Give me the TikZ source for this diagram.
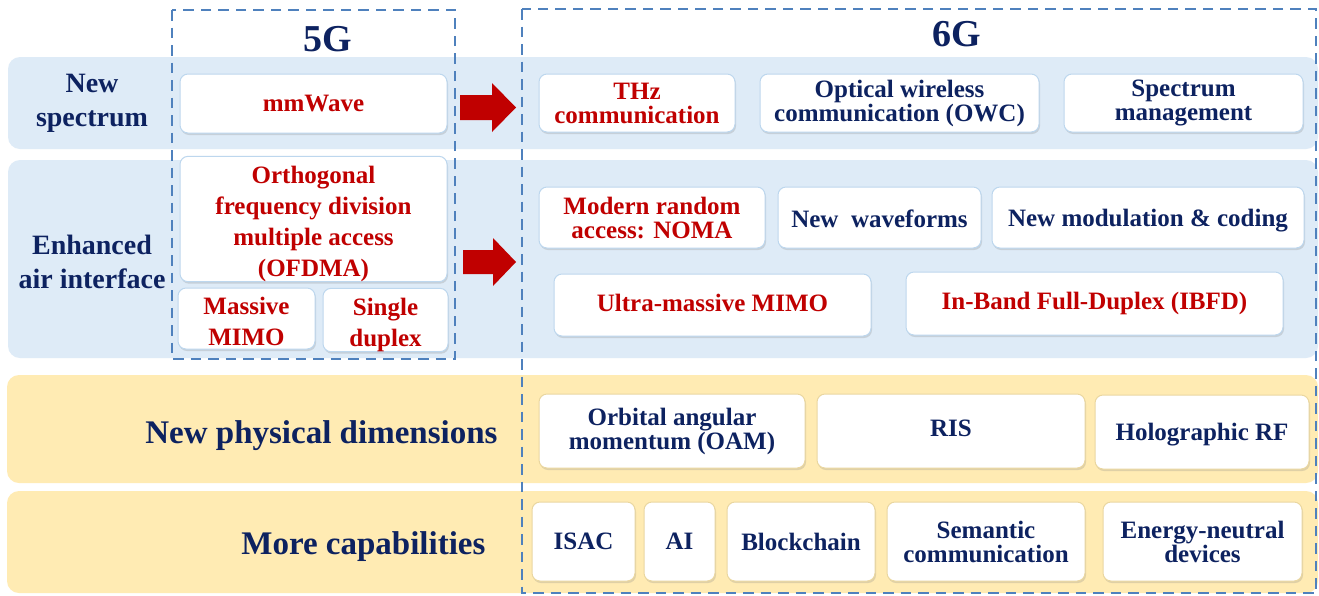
\documentclass[tikz,border=0pt]{standalone}
\usepackage{fontspec}
\setmainfont{Liberation Serif}
\usetikzlibrary{shadows}
\definecolor{navy}{HTML}{0D2260}
\definecolor{dred}{HTML}{C00000}
\definecolor{bandblue}{HTML}{DEEBF7}
\definecolor{bandyel}{HTML}{FFEBB3}
\definecolor{dashblue}{HTML}{4F81BD}
\definecolor{boxblue}{HTML}{BDD7EE}
\definecolor{boxyel}{HTML}{EAD7A0}
\newcommand{\up}[1]{\rule{0pt}{#1}}
\newcommand{\dnd}[1]{\rule[-#1]{0pt}{0pt}}
\begin{document}
\begin{tikzpicture}[x=1pt,y=-1pt,
  band/.style={rounded corners=12pt, draw=none},
  frame/.style={draw=dashblue, line width=2.8pt, dash pattern=on 10.5pt off 7pt},
  card/.style={draw=boxblue, fill=white, line width=1pt, rounded corners=8pt,
    drop shadow={shadow xshift=1pt,shadow yshift=-2pt,opacity=0.25},
    align=center, inner sep=0pt,
    font=\fontsize{25}{24}\selectfont\bfseries},
  ycard/.style={card, draw=boxyel},
  oldcard/.style={card, font=\fontsize{25}{31}\selectfont\bfseries},
  redt/.style={text=dred},
  navt/.style={text=navy},
  rowlabel/.style={text=navy, align=center, font=\fontsize{28}{34}\selectfont\bfseries},
  biglabel/.style={text=navy, font=\fontsize{33}{38}\selectfont\bfseries},
  genlabel/.style={text=navy, font=\fontsize{38}{40}\selectfont\bfseries},
  blockarrow/.style={fill=dred, draw=none}
]
\useasboundingbox (0,0) rectangle (1319,595);
\fill[white] (0,0) rectangle (1319,595);

% bands
\fill[band, bandblue] (8,57) rectangle (1318,149);
\fill[band, bandblue] (8,160) rectangle (1318,358);
\fill[band, bandyel] (7,375) rectangle (1318,483);
\fill[band, bandyel] (7,491) rectangle (1318,593);

% frames
\draw[frame] (172,10) rectangle (455,359);
\draw[frame] (522,9) rectangle (1316,593);

\node[genlabel] (g5) at (328,39) {5G};
\node[genlabel] (g6) at (957,34) {6G};

% row labels
\node[rowlabel] (l1) at (92,100) {\up{25pt}New\\spectrum};
\node[rowlabel] (l2) at (92,262) {Enhanced\\air interface};
\node[biglabel, anchor=east] (l3) at (501,432) {\up{31pt}New physical dimensions};
\node[biglabel, anchor=east] (l4) at (489,543) {\up{31pt}More capabilities};

% block arrows
\fill[blockarrow] (460,95) -- (492,95) -- (492,83) -- (516,107.5) -- (492,132) -- (492,120) -- (460,120) -- cycle;
\fill[blockarrow] (463,250) -- (493,250) -- (493,238) -- (516,262) -- (493,286) -- (493,274) -- (463,274) -- cycle;

% 5G cards
\node[oldcard, redt, minimum width=267, minimum height=59] (mm) at (313.5,103.5) {mmWave};
\node[oldcard, redt, minimum width=267, minimum height=122] (ofdma) at (313.5,219) {\up{27pt}Orthogonal\\frequency division\\multiple access\\(OFDMA)};
\node[oldcard, redt, minimum width=137, minimum height=61] (mmimo) at (246.5,318.5) {\up{23pt}Massive\\MIMO};
\node[oldcard, redt, minimum width=125, minimum height=62] (sdup) at (385.5,320) {\up{27pt}Single\\duplex};

% 6G row 1
\node[card, redt, minimum width=196, minimum height=58] (thz) at (637,103) {THz\\communication};
\node[card, navt, minimum width=279, minimum height=58] (owc) at (899.5,103) {Optical wireless\\communication (OWC)};
\node[card, navt, minimum width=239, minimum height=58] (spm) at (1183.5,103) {Spectrum\\management};

% 6G row 2
\node[card, redt, minimum width=226, minimum height=61] (noma) at (652,217.5) {Modern random\\access: NOMA};
\node[card, navt, minimum width=203, minimum height=61] (wave) at (879.5,217.5) {\up{21pt}New~~waveforms};
\node[card, navt, minimum width=312, minimum height=61] (modc) at (1148,217.5) {\up{23pt}New modulation \& coding};

% 6G row 3
\node[card, redt, minimum width=317, minimum height=62] (umimo) at (712.5,305) {\dnd{4pt}Ultra-massive MIMO};
\node[card, redt, minimum width=377, minimum height=63] (ibfd) at (1094.5,303.5) {In-Band Full-Duplex (IBFD)};

% physical dimensions
\node[ycard, navt, minimum width=266, minimum height=74] (oam) at (672,431) {Orbital angular\\momentum (OAM)};
\node[ycard, navt, minimum width=268, minimum height=74] (ris) at (951,431) {\dnd{6pt}RIS};
\node[ycard, navt, minimum width=214, minimum height=74] (holo) at (1202,432) {\up{23pt}Holographic RF};

% capabilities
\node[ycard, navt, minimum width=103, minimum height=79] (isac) at (583.5,541.5) {ISAC};
\node[ycard, navt, minimum width=71, minimum height=79] (ai) at (679.5,541.5) {AI};
\node[ycard, navt, minimum width=148, minimum height=79] (block) at (801,541.5) {Blockchain};
\node[ycard, navt, minimum width=198, minimum height=79] (sem) at (986,541.5) {Semantic\\communication};
\node[ycard, navt, minimum width=199, minimum height=79] (energy) at (1202.5,541.5) {Energy-neutral\\devices};
\end{tikzpicture}
\end{document}
